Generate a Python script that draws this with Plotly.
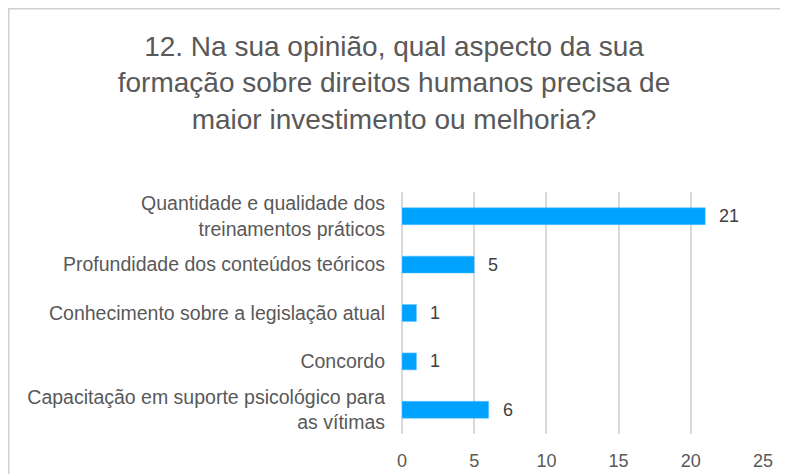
import plotly.graph_objects as go

# chart data
categories = [
    "Quantidade e qualidade dos<br>treinamentos práticos",
    "Profundidade dos conteúdos teóricos",
    "Conhecimento sobre a legislação atual",
    "Concordo",
    "Capacitação em suporte psicológico para<br>as vítimas",
]
counts = [21, 5, 1, 1, 6]
x_ticks = [0, 5, 10, 15, 20, 25]

title_text = ("12. Na sua opinião, qual aspecto da sua<br>"
              "formação sobre direitos humanos precisa de<br>"
              "maior investimento ou melhoria?")

# page body adds an 8px margin, so the figure fills the rest of the window
W, H = 780, 466
ml, mr, mt, mb = 394, 25, 184, 40
pw, ph = W - ml - mr, H - mt - mb

fig = go.Figure()
fig.add_trace(go.Bar(
    x=counts, y=categories, orientation="h",
    marker=dict(color="#00A2FF", line=dict(color="#5CC3FF", width=0.5)),
    width=0.35, hoverinfo="x+y",
))

# value labels next to each bar
for c, v in zip(categories, counts):
    fig.add_annotation(x=v, y=c, text=str(v), showarrow=False,
                       xanchor="left", xshift=12,
                       font=dict(size=18, color="#404040"))

# outer chart border
fig.add_shape(type="rect", xref="paper", yref="paper",
              x0=(0.75 - ml) / pw, x1=(778.5 - ml) / pw,
              y0=-0.5, y1=1 + (mt - 0.75) / ph,
              line=dict(color="#D0D0D0", width=1.5), layer="below")

fig.update_layout(
    width=W, height=H,
    margin=dict(l=ml, r=mr, t=mt, b=mb, autoexpand=False),
    paper_bgcolor="white", plot_bgcolor="white",
    font=dict(family="Liberation Sans, Arial, sans-serif", color="#595959"),
    title=dict(text=title_text, x=386 / W, xanchor="center", xref="container",
               y=1 - 48 / H, yanchor="top", yref="container",
               font=dict(size=28, color="#595959")),
    showlegend=False,
    bargap=0.65,
)
fig.update_xaxes(range=[0, 25], tickvals=x_ticks, showgrid=True,
                 gridcolor="#D9D9D9", gridwidth=1.5, zeroline=True,
                 zerolinecolor="#D9D9D9", zerolinewidth=1.5,
                 showline=False, ticks="", ticklabelstandoff=14,
                 automargin=False,
                 tickfont=dict(size=18, color="#595959"))
fig.update_yaxes(autorange="reversed", showgrid=False, showline=False,
                 ticks="", ticklabelstandoff=16, automargin=False,
                 tickfont=dict(size=19.5, color="#595959"))

fig.write_html("out.html")
